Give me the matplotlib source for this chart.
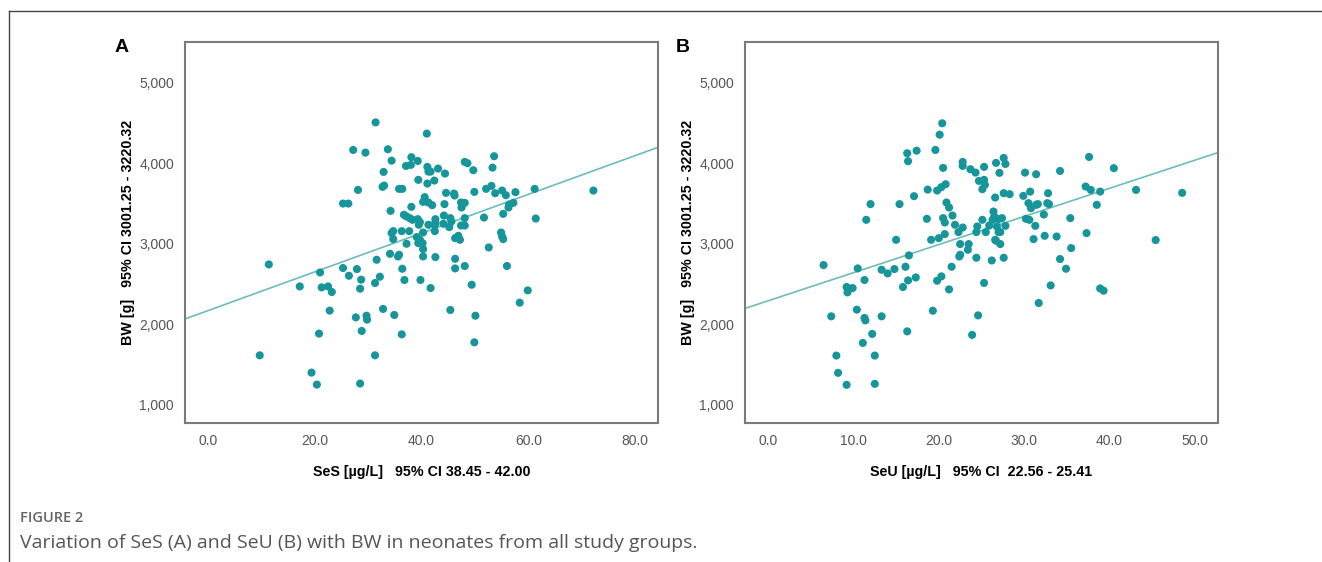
import matplotlib
matplotlib.use("Agg")
import matplotlib.pyplot as plt
from matplotlib.lines import Line2D
import numpy as np

# ---------------- Data ----------------
ses_x = [31.4, 41.0, 27.2, 29.5, 33.7, 34.4, 38.1, 39.3, 37.1, 38.0, 41.1, 43.1, 41.3, 41.7, 44.4,
         32.9, 48.1, 48.6, 49.7, 53.6, 53.3, 39.4, 41.1, 42.4, 33.0, 32.7, 28.1, 35.8, 36.4, 44.6,
         46.1, 46.2, 49.9, 52.1, 53.1, 53.8, 55.1, 55.8, 57.6, 61.2, 72.2, 40.6, 40.3, 41.3, 42.0,
         25.3, 26.3, 38.1, 44.3, 47.4, 48.1, 47.5, 56.4, 57.2, 56.3, 34.2, 55.3, 36.7, 37.2, 37.8,
         38.3, 39.3, 39.7, 39.5, 42.6, 42.6, 41.3, 42.5, 44.2, 45.4, 45.6, 44.1, 45.2, 48.1, 47.4,
         48.1, 51.7, 61.4, 34.7, 34.4, 36.3, 37.7, 40.3, 42.5, 54.9, 55.1, 46.9, 34.7, 39.1, 39.7,
         40.2, 39.4, 37.2, 40.3, 40.3, 42.6, 46.3, 47.2, 55.3, 52.6, 34.1, 35.6, 35.8, 31.6, 46.3,
         11.4, 21.0, 25.3, 27.9, 26.4, 28.7, 32.2, 31.3, 36.4, 36.8, 39.8, 46.3, 48.1, 56.0, 17.2,
         21.3, 22.5, 23.2, 28.5, 41.7, 49.4, 59.9, 58.4, 22.8, 27.7, 29.7, 29.8, 32.8, 34.9, 45.4,
         50.1, 20.8, 28.8, 36.3, 49.9, 9.7, 31.3, 19.4, 20.4, 28.5]
ses_bw = [4510, 4370, 4167, 4134, 4176, 4034, 4077, 4030, 3968, 3981, 3956, 3935, 3898, 3898, 3873,
          3894, 4018, 4002, 3915, 4089, 3947, 3795, 3749, 3786, 3724, 3708, 3670, 3683, 3683, 3633,
          3624, 3600, 3645, 3683, 3720, 3629, 3662, 3604, 3642, 3683, 3662, 3580, 3521, 3513, 3480,
          3500, 3500, 3459, 3493, 3513, 3509, 3451, 3488, 3509, 3451, 3409, 3372, 3360, 3339, 3319,
          3298, 3306, 3269, 3236, 3306, 3264, 3236, 3232, 3351, 3319, 3277, 3248, 3207, 3319, 3227,
          3227, 3326, 3314, 3157, 3133, 3157, 3157, 3140, 3157, 3140, 3090, 3099, 3058, 3083, 3049,
          3008, 3008, 3000, 2934, 2842, 2834, 3070, 3049, 3058, 2954, 2875, 2842, 2863, 2801, 2813,
          2743, 2643, 2698, 2685, 2602, 2553, 2590, 2512, 2689, 2549, 2549, 2693, 2723, 2723, 2469,
          2457, 2469, 2400, 2441, 2449, 2490, 2420, 2267, 2168, 2084, 2105, 2056, 2189, 2114, 2176,
          2105, 1882, 1915, 1873, 1774, 1612, 1612, 1397, 1248, 1261]

seu_x = [20.4, 20.1, 16.3, 17.4, 16.4, 19.6, 20.5, 22.8, 22.8, 23.7, 24.3, 25.3, 26.7, 27.6, 27.8,
         27.1, 30.1, 31.4, 34.2, 37.6, 40.5, 24.7, 25.3, 25.4, 25.1, 20.8, 20.3, 19.8, 18.7, 17.1,
         15.4, 12.0, 11.5, 20.9, 21.2, 26.6, 27.6, 28.3, 29.9, 30.7, 32.8, 30.5, 30.8, 31.4, 31.6,
         32.7, 32.9, 32.3, 35.4, 37.2, 37.8, 38.9, 38.5, 43.1, 48.5, 20.5, 20.7, 21.6, 21.9, 18.6,
         22.8, 22.3, 24.5, 24.4, 25.1, 25.5, 25.9, 26.4, 26.5, 26.3, 27.0, 27.4, 27.8, 26.8, 27.0,
         27.2, 30.2, 30.6, 31.3, 20.7, 20.0, 19.1, 15.0, 26.6, 31.1, 32.4, 33.8, 37.3, 45.4, 22.5,
         23.5, 23.4, 22.4, 22.5, 24.4, 26.7, 27.2, 27.6, 26.2, 35.5, 34.2, 34.9, 33.1, 31.7, 38.9,
         39.3, 16.5, 16.1, 14.8, 13.3, 14.0, 10.5, 6.5, 11.3, 9.2, 9.9, 9.3, 17.3, 16.4, 15.8,
         20.3, 19.8, 21.5, 21.2, 25.3, 7.4, 10.4, 11.3, 11.4, 13.3, 19.3, 24.6, 12.2, 16.3, 11.1,
         23.9, 8.0, 12.5, 8.2, 9.2, 12.5]
seu_bw = [4499, 4357, 4126, 4158, 4027, 4167, 3944, 4018, 3968, 3927, 3885, 3956, 4006, 4068, 3993,
          3882, 3885, 3865, 3906, 4080, 3940, 3782, 3795, 3733, 3679, 3741, 3704, 3662, 3674, 3592,
          3493, 3493, 3298, 3513, 3451, 3575, 3629, 3617, 3596, 3649, 3629, 3505, 3443, 3484, 3493,
          3505, 3493, 3364, 3319, 3712, 3670, 3649, 3484, 3670, 3633, 3319, 3264, 3351, 3236, 3310,
          3202, 3145, 3215, 3145, 3298, 3145, 3227, 3401, 3339, 3298, 3306, 3319, 3223, 3215, 3145,
          3145, 3310, 3298, 3223, 3120, 3070, 3049, 3049, 3049, 3058, 3099, 3090, 3132, 3046, 2996,
          2996, 2925, 2842, 2863, 2826, 3037, 2996, 2826, 2792, 2946, 2810, 2689, 2482, 2263, 2444,
          2416, 2855, 2714, 2685, 2677, 2631, 2693, 2735, 2549, 2462, 2449, 2395, 2581, 2544, 2462,
          2594, 2540, 2714, 2432, 2512, 2097, 2180, 2077, 2047, 2097, 2167, 2109, 1878, 1910, 1766,
          1866, 1609, 1609, 1394, 1245, 1257]

# fitted lines (intercept, slope)
fit_a = (2168, 24.1)
fit_b = (2290, 35.0)

xticks_a = [0, 20, 40, 60, 80]
xticks_b = [0, 10, 20, 30, 40, 50]
yticks = [1000, 2000, 3000, 4000, 5000]

xlabel_a = "SeS [µg/L]   95% CI 38.45 - 42.00"
xlabel_b = "SeU [µg/L]   95% CI  22.56 - 25.41"
ylabel = "BW [g]   95% CI 3001.25 - 3220.32"
caption_head = "FIGURE 2"
caption_text = "Variation of SeS (A) and SeU (B) with BW in neonates from all study groups."

# ---------------- Figure ----------------
W, H = 1322, 562
fig = plt.figure(figsize=(W / 100, H / 100), dpi=100)

DOT = "#16959a"
LINE = "#6dbcbc"
FRAME = "#7a7a7a"
TICKC = "#555555"
label_font = ["Liberation Sans Narrow", "Liberation Sans", "DejaVu Sans"]
tick_font = ["Liberation Sans", "DejaVu Sans"]


def px_axes(l, r, t, b):
    return fig.add_axes([l / W, 1 - b / H, (r - l) / W, (b - t) / H])


def panel(ax, x, y, fit, xlim, xticks, xlabel):
    ax.scatter(x, y, s=34, color=DOT, edgecolors="none", zorder=3)
    xs = np.array(xlim)
    ax.plot(xs, fit[0] + fit[1] * xs, color=LINE, lw=1.2, zorder=2)
    ax.set_xlim(*xlim)
    ax.set_ylim(770, 5510)
    ax.set_xticks(xticks)
    ax.set_xticklabels([f"{v:.1f}" for v in xticks])
    ax.set_yticks(yticks)
    ax.set_yticklabels([f"{v:,}" for v in yticks])
    ax.tick_params(length=0, pad=8, labelsize=10, labelcolor=TICKC)
    for lab in ax.get_xticklabels() + ax.get_yticklabels():
        lab.set_fontfamily(tick_font)
    for s in ax.spines.values():
        s.set_color(FRAME)
        s.set_linewidth(1.5)
    ax.set_xlabel(xlabel, fontsize=10.3, fontweight="bold", family=label_font, labelpad=12)
    ax.set_ylabel(ylabel, fontsize=10.3, fontweight="bold", family=label_font, labelpad=3)


ax_a = px_axes(185, 658, 42, 423)
panel(ax_a, ses_x, ses_bw, fit_a, (-4.3, 84.3), xticks_a, xlabel_a)
ax_b = px_axes(745, 1218, 42, 423)
panel(ax_b, seu_x, seu_bw, fit_b, (-2.7, 52.7), xticks_b, xlabel_b)

fig.text(122 / W, 1 - 48 / H, "A", fontsize=14, fontweight="bold", ha="center", va="center",
         family=tick_font)
fig.text(683 / W, 1 - 48 / H, "B", fontsize=14, fontweight="bold", ha="center", va="center",
         family=tick_font)

# frame lines of the figure box
fig.add_artist(Line2D([9 / W, 1], [1 - 11 / H, 1 - 11 / H], color="#444444", lw=1))
fig.add_artist(Line2D([9 / W, 9 / W], [0, 1 - 11 / H], color="#444444", lw=1))

fig.text(20 / W, 1 - 518 / H, caption_head, fontsize=10.5, color="#666666", ha="left",
         va="center", fontweight="semibold", family=["Open Sans", "DejaVu Sans"])
fig.text(20 / W, 1 - 543 / H, caption_text, fontsize=14, color="#555555", ha="left",
         va="center", family=["Open Sans", "DejaVu Sans"])

fig.savefig("out.png", dpi=100, facecolor="white")
